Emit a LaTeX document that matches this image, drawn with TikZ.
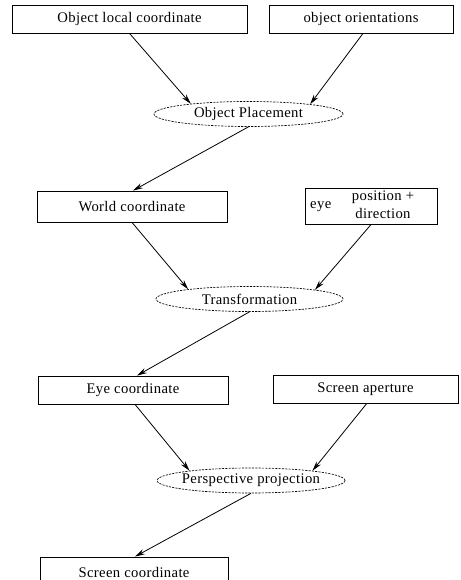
\documentclass[tikz,border=0pt]{standalone}
\usepackage{fontspec}
\setmainfont[LetterSpace=2.5]{Liberation Serif}
\usetikzlibrary{shapes.geometric,arrows.meta}
\newcommand{\ovaltext}[1]{\makebox[0pt][c]{#1}}
\begin{document}
\begin{tikzpicture}[x=0.75pt,y=-0.75pt,
  box/.style={draw,line width=0.6pt,inner sep=0pt,font=\fontsize{11}{13}\selectfont},
  oval/.style={draw,ellipse,line width=0.5pt,dash pattern=on 1.6pt off 0.9pt,inner sep=0pt,font=\fontsize{11}{13}\selectfont},
  arr/.style={line width=0.6pt,-{Stealth[length=7.5pt,width=4pt]}},
  lbl/.style={inner sep=0pt,font=\fontsize{11}{13}\selectfont}]
\useasboundingbox (0,0) rectangle (460,580);
\clip (0,0) rectangle (460,580);
\fill[white] (0,0) rectangle (460,580);
\node[box,minimum width=235*0.75pt,minimum height=28*0.75pt] (b1) at (129.5,19) {Object local coordinate};
\node[box,minimum width=184*0.75pt,minimum height=28*0.75pt] (b2) at (361,19) {object orientations};
\node[oval,minimum width=189*0.75pt,minimum height=25*0.75pt] (e1) at (248.5,114) {\ovaltext{Object Placement}};
\node[box,minimum width=190*0.75pt,minimum height=31*0.75pt] (w) at (132,206.5) {World coordinate};
\node[box,minimum width=132*0.75pt,minimum height=35*0.75pt,
  label={[lbl,anchor=west,xshift=4pt]west:eye}] (eye) at (371,206.5)
  {\hspace*{18pt}\begin{tabular}{@{}c@{}}position +\\[0.5pt] direction\end{tabular}};
\node[oval,minimum width=187*0.75pt,minimum height=25*0.75pt] (e2) at (249.5,299) {\ovaltext{Transformation}};
\node[box,minimum width=190*0.75pt,minimum height=28*0.75pt] (ec) at (133,390) {Eye coordinate};
\node[box,minimum width=185*0.75pt,minimum height=28*0.75pt] (sa) at (365.5,389) {Screen aperture};
\node[oval,minimum width=188*0.75pt,minimum height=25*0.75pt] (e3) at (251,480.5) {\ovaltext{Perspective projection}};
\node[box,minimum width=188*0.75pt,minimum height=30*0.75pt] (sc) at (134,572) {Screen coordinate};
\draw[arr] (b1.south) -- (e1.170.6);
\draw[arr] ([xshift=1.5pt]b2.south) -- (e1.9.4);
\draw[arr] (e1.south) -- ([xshift=0.75pt]w.north);
\draw[arr] (w.south) -- (e2.171.4);
\draw[arr] (eye.south) -- (e2.8.7);
\draw[arr] (e2.south) -- ([xshift=3pt]ec.north);
\draw[arr] ([xshift=1.5pt]ec.south) -- (e3.171);
\draw[arr] ([xshift=1pt]sa.south) -- (e3.9);
\draw[arr] (e3.south) -- ([xshift=0.75pt]sc.north);
\end{tikzpicture}
\end{document}
